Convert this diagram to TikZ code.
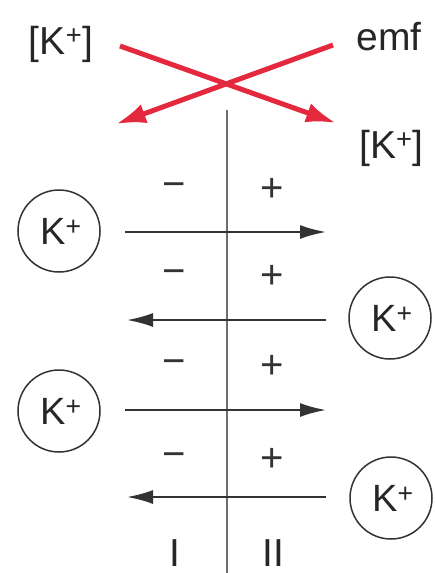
\documentclass[tikz,border=0pt]{standalone}
\usepackage{fontspec}
\setmainfont{Liberation Sans}
\usetikzlibrary{arrows.meta}
\definecolor{kred}{RGB}{228,40,62}
\definecolor{kgray}{RGB}{110,110,110}
\tikzset{
  lbl/.style={font=\fontsize{39}{41}\selectfont, text=black!85, inner sep=0pt},
  sgn/.style={font=\fontsize{40}{42}\selectfont, text=black!80, inner sep=0pt},
  ion/.style={circle, draw=black!80, line width=1.5pt, minimum size=82pt, inner sep=0pt,
              font=\fontsize{38}{40}\selectfont, text=black!85},
  flux/.style={line width=2pt, draw=black!80, -{Latex[length=26pt,width=14pt]}},
  redarr/.style={line width=5pt, draw=kred, -{Latex[length=30pt,width=20pt]}},
}
\newcommand{\kion}{\raisebox{-3pt}{\hspace{4pt}K\textsuperscript{+}}}
\begin{document}
\begin{tikzpicture}[x=1pt,y=-1pt]
\useasboundingbox (0,0) rectangle (435,573);
\fill[white] (0,0) rectangle (435,573);
% labels
\node[lbl, anchor=base] (kl) at (61,54) {[K\textsuperscript{+}]};
\node[lbl, anchor=base] (emf) at (389,50) {emf};
\node[lbl, anchor=base west] (kr) at (359,158) {[K\textsuperscript{+}]};
% red crossing arrows
\coordinate (a1) at (120,46);
\coordinate (b1) at (336,123);
\coordinate (a2) at (333,45);
\coordinate (b2) at (116,124);
\draw[redarr] (a1) -- (b1);
\draw[redarr] (a2) -- (b2);
% membrane
\coordinate (mt) at (227,110);
\coordinate (mb) at (227,573);
\draw[kgray, line width=1.8pt] (mt) -- (mb);
% signs
\foreach \y [count=\i] in {190,277,367,460}{
  \node[sgn] (m\i) at (174,\y) {−};
  \node[sgn] (p\i) at (272,\y) {+};
}
% ions
\node[ion] (i1) at (59,231) {\kion};
\node[ion] (i2) at (390,318) {\kion};
\node[ion] (i3) at (59,411) {\kion};
\node[ion] (i4) at (391,498) {\kion};
% flux arrows
\coordinate (s1) at (125,232); \coordinate (e1) at (326,232);
\coordinate (s2) at (326,320); \coordinate (e2) at (127,320);
\coordinate (s3) at (125,410); \coordinate (e3) at (326,410);
\coordinate (s4) at (326,497); \coordinate (e4) at (127,497);
\draw[flux] (s1) -- (e1);
\draw[flux] (s2) -- (e2);
\draw[flux] (s3) -- (e3);
\draw[flux] (s4) -- (e4);
% compartments
\node[lbl, anchor=base, text depth=0pt] (c1) at (175,566) {I};
\node[lbl, anchor=base, text depth=0pt] (c2) at (273,566) {II};
\end{tikzpicture}
\end{document}
